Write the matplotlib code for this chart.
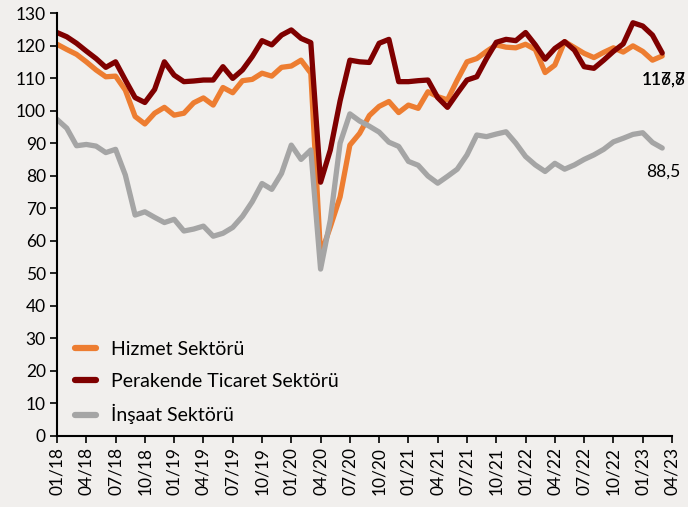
import numpy as np
import pandas as pd
import matplotlib
matplotlib.use('Agg')
import matplotlib.pyplot as plt

plt.rcParams['font.family'] = ['Lato', 'DejaVu Sans']

# monthly series 01/18 - 03/23
hizmet = [120.4, 118.8, 117.3, 115.0, 112.5, 110.4, 110.6, 106.3, 98.2, 95.9,
          99.2, 101.0, 98.6, 99.2, 102.4, 103.9, 101.7, 107.1, 105.5, 109.2,
          109.6, 111.5, 110.6, 113.3, 113.7, 115.5, 111.5, 55.6, 64.3, 73.5,
          89.4, 93.0, 98.5, 101.3, 102.8, 99.4, 101.7, 100.7, 105.8, 104.3,
          103.3, 109.4, 115.0, 116.0, 118.2, 120.2, 119.5, 119.3, 120.4, 118.8,
          111.7, 114.0, 121.2, 119.4, 117.6, 116.3, 117.9, 119.3, 118.0, 119.9,
          118.2, 115.5, 116.8]
perakende = [124.0, 122.7, 120.7, 118.3, 116.0, 113.3, 115.0, 109.4, 104.0, 102.5,
             106.5, 115.0, 110.9, 108.9, 109.1, 109.4, 109.4, 113.5, 109.9, 112.5,
             116.6, 121.5, 120.2, 123.2, 124.8, 122.2, 120.9, 78.0, 87.9, 103.0,
             115.5, 115.0, 114.8, 120.7, 121.9, 108.9, 108.9, 109.2, 109.4, 104.0,
             101.0, 105.3, 109.4, 110.4, 116.0, 121.0, 121.9, 121.5, 124.0, 120.2,
             115.8, 119.1, 121.2, 118.6, 113.5, 113.0, 115.5, 118.2, 120.5, 127.0,
             126.0, 123.2, 117.7]
insaat = [97.3, 94.6, 89.2, 89.6, 89.1, 87.1, 88.1, 80.2, 67.9, 68.9,
          67.2, 65.6, 66.6, 63.0, 63.6, 64.5, 61.4, 62.3, 64.1, 67.5,
          72.0, 77.6, 75.8, 80.7, 89.4, 85.0, 87.9, 51.3, 66.4, 90.0,
          99.0, 96.8, 95.2, 93.4, 90.3, 89.0, 84.4, 83.2, 79.9, 77.7,
          79.8, 82.0, 86.4, 92.5, 92.0, 92.8, 93.5, 90.0, 85.9, 83.3,
          81.3, 83.8, 82.0, 83.3, 85.0, 86.4, 88.1, 90.4, 91.5, 92.7,
          93.2, 90.2, 88.5]
months = pd.date_range('2018-01-01', '2023-04-01', freq='MS')
tick_labels = [m.strftime('%m/%y') for m in months[::3]]

series = [('Hizmet Sektörü', hizmet, '#ED7D31'),
          ('Perakende Ticaret Sektörü', perakende, '#7F0000'),
          ('İnşaat Sektörü', insaat, '#A5A5A5')]

bg = '#f1efed'
fig = plt.figure(figsize=(6.88, 5.07), dpi=100, facecolor=bg)
ax = fig.add_axes([57/688, 1-436/507, 615/688, 423/507])
ax.set_facecolor(bg)

x = np.arange(len(hizmet))
for name, vals, col in series:
    ax.plot(x, vals, color=col, lw=3.8, label=name, solid_joinstyle='round',
            solid_capstyle='round')

ax.set_xlim(0, len(months) - 1)
ax.set_ylim(0, 130)
ax.set_yticks(range(0, 131, 10))
ax.set_xticks(np.arange(0, len(months), 3))
ax.set_xticklabels(tick_labels, rotation=90, fontsize=12.5)
ax.tick_params(axis='y', labelsize=12.5, length=5, width=1.2, direction='out', pad=3)
ax.tick_params(axis='x', length=5, width=1.2, direction='out', pad=3)
for s in ['top', 'right']:
    ax.spines[s].set_visible(False)
for s in ['left', 'bottom']:
    ax.spines[s].set_linewidth(1.5)

# end labels
ax.text(x[-1] + 0.1, perakende[-1] - 5.8, '117,7', ha='center', va='top', fontsize=12.5)
ax.text(x[-1] + 0.1, hizmet[-1] - 4.9, '116,8', ha='center', va='top', fontsize=12.5)
ax.text(x[-1] + 0.1, insaat[-1] - 4.8, '88,5', ha='center', va='top', fontsize=12.5)

leg = ax.legend(loc='lower left', bbox_to_anchor=(0.0, -0.014), frameon=False,
                fontsize=14, handlelength=1.1, handletextpad=0.8, labelspacing=0.75)
for h in leg.get_lines():
    h.set_linewidth(4.5)

fig.savefig('out.png', dpi=100, facecolor=bg)
